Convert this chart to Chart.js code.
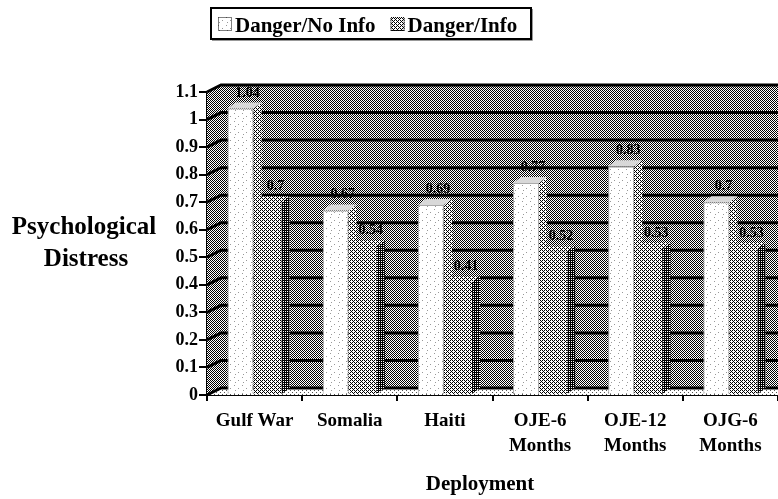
<!DOCTYPE html>
<html>
<head>
<meta charset="utf-8">
<title>Psychological Distress by Deployment</title>
<script src="https://cdn.jsdelivr.net/npm/chart.js@4.4.0/dist/chart.umd.min.js"></script>
<style>
  html, body { margin: 0; padding: 0; background: #fff; overflow: hidden; }
  #wrap { position: relative; width: 778px; height: 499px; }
</style>
</head>
<body>
<div id="wrap"><canvas id="chart" width="778" height="499"></canvas></div>
<script>
// data
const categories = [['Gulf War'], ['Somalia'], ['Haiti'], ['OJE-6', 'Months'], ['OJE-12', 'Months'], ['OJG-6', 'Months']];
const noInfoValues = [1.04, 0.67, 0.69, 0.77, 0.83, 0.7];
const infoValues = [0.7, 0.54, 0.41, 0.52, 0.53, 0.53];
const seriesNames = ['Danger/No Info', 'Danger/Info'];
const yTitleLines = ['Psychological', 'Distress'];
const xTitle = 'Deployment';

const FONT = '"Liberation Serif", "Times New Roman", serif';

// little dither patterns, like the old printout
function makePattern(rows, on, off) {
  const c = document.createElement('canvas');
  c.width = rows[0].length;
  c.height = rows.length;
  const g = c.getContext('2d');
  g.fillStyle = off;
  g.fillRect(0, 0, c.width, c.height);
  g.fillStyle = on;
  rows.forEach((r, y) => {
    for (let x = 0; x < r.length; x++) {
      if (r[x] === 'x') g.fillRect(x, y, 1, 1);
    }
  });
  return g.createPattern(c, 'repeat');
}

const wallFill = makePattern(['x.', '.x'], '#000', '#fff');
const darkBarFill = makePattern(['x.x.', '.x..', 'x.x.', '...x'], '#000', '#fff');
const sideFill = makePattern(['xx', 'x.'], '#000', '#fff');
const whiteBarFill = makePattern(['........', '..x.....', '........', '........', '......x.', '........', '...x....', '........'], '#999', '#fff');
const floorFill = makePattern(['x...', '....', '..x.', '....'], '#555', '#fff');

const WALL_DX = 14, WALL_DY = 7;
const BAR_DX = 8, BAR_DY = 6;

const threeD = {
  id: 'threeD',
  beforeDatasetsDraw(chart) {
    const { ctx, chartArea: a, scales: { y } } = chart;
    ctx.save();
    // back wall
    ctx.fillStyle = wallFill;
    ctx.fillRect(a.left + WALL_DX, a.top - WALL_DY, a.right - a.left - WALL_DX, a.bottom - a.top);
    // side wall
    ctx.beginPath();
    ctx.moveTo(a.left, a.top);
    ctx.lineTo(a.left + WALL_DX, a.top - WALL_DY);
    ctx.lineTo(a.left + WALL_DX, a.bottom - WALL_DY);
    ctx.lineTo(a.left, a.bottom);
    ctx.closePath();
    ctx.fill();
    // floor
    ctx.fillStyle = floorFill;
    ctx.beginPath();
    ctx.moveTo(a.left, a.bottom);
    ctx.lineTo(a.left + WALL_DX, a.bottom - WALL_DY);
    ctx.lineTo(a.right, a.bottom - WALL_DY);
    ctx.lineTo(a.right, a.bottom);
    ctx.closePath();
    ctx.fill();
    // grid lines on the walls
    ctx.strokeStyle = '#000';
    ctx.lineWidth = 3;
    y.ticks.forEach(t => {
      const py = y.getPixelForValue(t.value);
      ctx.beginPath();
      ctx.moveTo(a.left, py);
      ctx.lineTo(a.left + WALL_DX, py - WALL_DY);
      ctx.lineTo(a.right, py - WALL_DY);
      ctx.stroke();
    });
    ctx.restore();
  },
  afterDatasetDraw(chart, args) {
    const { ctx } = chart;
    const i = args.index;
    ctx.save();
    args.meta.data.forEach(el => {
      const { x, y, base, width } = el.getProps(['x', 'y', 'base', 'width'], true);
      const l = x - width / 2, r = x + width / 2;
      // side face
      ctx.fillStyle = i === 0 ? darkBarFill : sideFill;
      ctx.beginPath();
      ctx.moveTo(r, y);
      ctx.lineTo(r + BAR_DX, y - BAR_DY);
      ctx.lineTo(r + BAR_DX, base - BAR_DY);
      ctx.lineTo(r, base);
      ctx.closePath();
      ctx.fill();
      // top face
      ctx.fillStyle = i === 0 ? '#d8d8d8' : darkBarFill;
      ctx.beginPath();
      ctx.moveTo(l, y);
      ctx.lineTo(l + BAR_DX, y - BAR_DY);
      ctx.lineTo(r + BAR_DX, y - BAR_DY);
      ctx.lineTo(r, y);
      ctx.closePath();
      ctx.fill();
    });
    ctx.restore();
  },
  afterDatasetsDraw(chart) {
    const { ctx } = chart;
    ctx.save();
    ctx.font = `bold 14px ${FONT}`;
    ctx.fillStyle = '#000';
    ctx.textAlign = 'center';
    ctx.textBaseline = 'alphabetic';
    chart.data.datasets.forEach((ds, i) => {
      chart.getDatasetMeta(i).data.forEach((el, j) => {
        ctx.fillText(String(ds.data[j]), el.x + 7, el.y - 12);
      });
    });
    ctx.restore();
  },
  afterDraw(chart) {
    const { ctx } = chart;
    ctx.save();
    ctx.fillStyle = '#000';
    // axis titles
    ctx.textAlign = 'center';
    ctx.textBaseline = 'alphabetic';
    ctx.font = `bold 25px ${FONT}`;
    ctx.fillText(yTitleLines[0], 84, 234);
    ctx.fillText(yTitleLines[1], 86, 266);
    ctx.font = `bold 21px ${FONT}`;
    ctx.fillText(xTitle, 480, 490);
    // legend with a frame round it
    ctx.font = `bold 21px ${FONT}`;
    ctx.textAlign = 'left';
    let lx = 218;
    const cy = 24;
    chart.data.datasets.forEach(ds => {
      ctx.fillStyle = ds.backgroundColor;
      ctx.fillRect(lx, cy - 7, 14, 14);
      ctx.strokeStyle = '#000';
      ctx.lineWidth = 1;
      ctx.setLineDash([1, 1]);
      ctx.strokeRect(lx + 0.5, cy - 6.5, 13, 13);
      ctx.setLineDash([]);
      ctx.fillStyle = '#000';
      ctx.fillText(ds.label, lx + 17, cy + 8);
      lx += 17 + ctx.measureText(ds.label).width + 15;
    });
    ctx.lineWidth = 2;
    ctx.strokeRect(211, 8, 320, 31);
    ctx.strokeStyle = '#999';
    ctx.lineWidth = 1;
    ctx.beginPath();
    ctx.moveTo(212, 40.5);
    ctx.lineTo(532.5, 40.5);
    ctx.lineTo(532.5, 9);
    ctx.stroke();
    ctx.restore();
  }
};

new Chart(document.getElementById('chart'), {
  type: 'bar',
  data: {
    labels: categories,
    datasets: [
      {
        label: seriesNames[0],
        data: noInfoValues,
        backgroundColor: whiteBarFill,
        borderColor: '#aaa',
        borderWidth: 1,
        categoryPercentage: 0.59,
        barPercentage: 0.93,
      },
      {
        label: seriesNames[1],
        data: infoValues,
        backgroundColor: darkBarFill,
        borderWidth: 0,
        categoryPercentage: 0.59,
        barPercentage: 0.93,
      },
    ],
  },
  options: {
    responsive: false,
    animation: false,
    devicePixelRatio: 1,
    layout: { padding: { top: 92, right: 0, bottom: 0, left: 0 } },
    plugins: {
      legend: { display: false },
      tooltip: { enabled: false },
    },
    scales: {
      x: {
        ticks: {
          color: '#000',
          font: { family: FONT, size: 19, weight: 'bold', lineHeight: 1.3 },
          maxRotation: 0,
          autoSkip: false,
          padding: 8,
        },
        grid: { drawOnChartArea: false, offset: true, tickLength: 6, color: '#000', lineWidth: 2 },
        border: { color: '#000', width: 2 },
        afterFit: s => { s.height = 104; },
      },
      y: {
        min: 0,
        max: 1.1,
        ticks: {
          stepSize: 0.1,
          color: '#000',
          font: { family: FONT, size: 18, weight: 'bold' },
          padding: 1,
          callback: v => String(Math.round(v * 10) / 10),
        },
        grid: { drawOnChartArea: false, tickLength: 8, color: '#000', lineWidth: 2 },
        border: { color: '#000', width: 3 },
        afterFit: s => { s.width = 207; },
      },
    },
  },
  plugins: [threeD],
});
</script>
</body>
</html>
